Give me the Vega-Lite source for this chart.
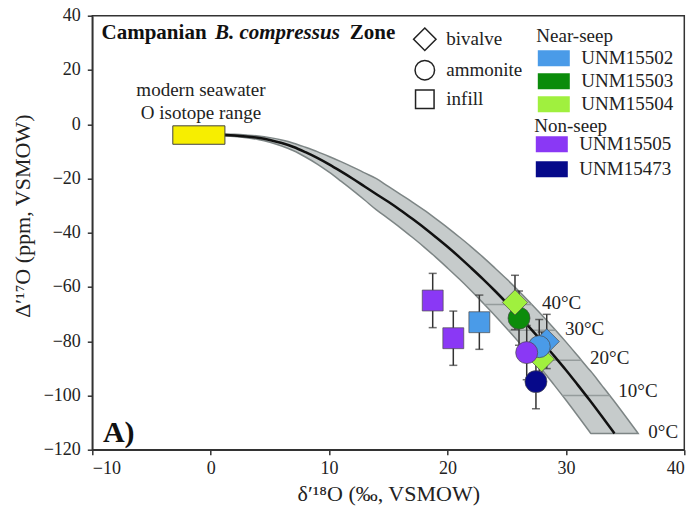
{
  "$schema": "https://vega.github.io/schema/vega-lite/v6.json",
  "width": 592,
  "height": 434,
  "autosize": "none",
  "padding": {"left": 92.3, "top": 15.7, "right": 12.7, "bottom": 64.3},
  "background": "white",
  "config": {
    "font": "Liberation Serif, serif",
    "view": {"stroke": "#333", "strokeWidth": 1.5},
    "axis": {
      "grid": false, "domainColor": "#333", "domainWidth": 1.5,
      "tickColor": "#333", "tickWidth": 1.5, "tickSize": 5,
      "labelFont": "Liberation Serif, serif", "labelFontSize": 18, "labelColor": "#222",
      "titleFont": "Liberation Serif, serif", "titleFontSize": 22, "titleFontWeight": "normal", "titleColor": "#222"
    },
    "legend": {
      "labelFont": "Liberation Serif, serif", "titleFont": "Liberation Serif, serif",
      "labelFontSize": 19, "titleFontSize": 19, "titleFontWeight": "normal",
      "labelColor": "#222", "titleColor": "#222", "padding": 0
    }
  },
  "datasets": {
    "band": [
      {"x": 1.2, "upper": -3.65, "lower": -4.35},
      {"x": 2, "upper": -3.75, "lower": -4.55},
      {"x": 3, "upper": -4.0, "lower": -5.0},
      {"x": 4, "upper": -4.35, "lower": -5.65},
      {"x": 5, "upper": -4.95, "lower": -6.65},
      {"x": 6, "upper": -5.85, "lower": -8.05},
      {"x": 7, "upper": -7.0, "lower": -9.8},
      {"x": 8, "upper": -8.5, "lower": -12.1},
      {"x": 9, "upper": -10.1, "lower": -14.7},
      {"x": 10, "upper": -11.9, "lower": -17.7},
      {"x": 11, "upper": -13.8, "lower": -21.0},
      {"x": 12, "upper": -15.8, "lower": -24.4},
      {"x": 13, "upper": -17.95, "lower": -27.95},
      {"x": 14, "upper": -20.1, "lower": -31.6},
      {"x": 15, "upper": -22.95, "lower": -34.8},
      {"x": 16, "upper": -25.8, "lower": -38.1},
      {"x": 17, "upper": -28.6, "lower": -41.6},
      {"x": 18, "upper": -31.6, "lower": -45.2},
      {"x": 19, "upper": -34.8, "lower": -49.0},
      {"x": 20, "upper": -38.1, "lower": -53.0},
      {"x": 21, "upper": -41.6, "lower": -57.1},
      {"x": 22, "upper": -45.2, "lower": -61.4},
      {"x": 23, "upper": -49.0, "lower": -65.9},
      {"x": 24, "upper": -53.0, "lower": -70.5},
      {"x": 25, "upper": -57.1, "lower": -75.3},
      {"x": 26, "upper": -61.4, "lower": -80.25},
      {"x": 27, "upper": -65.9, "lower": -85.4},
      {"x": 28, "upper": -70.5, "lower": -90.6},
      {"x": 29, "upper": -75.3, "lower": -96.1},
      {"x": 30, "upper": -80.25, "lower": -101.7},
      {"x": 31, "upper": -85.4, "lower": -107.5},
      {"x": 32, "upper": -90.6, "lower": -113.4},
      {"x": 32.1, "upper": -91.1, "lower": -114},
      {"x": 33, "upper": -96.1, "lower": -114},
      {"x": 34, "upper": -101.7, "lower": -114},
      {"x": 35, "upper": -107.5, "lower": -114},
      {"x": 36, "upper": -113.4, "lower": -114},
      {"x": 36.1, "upper": -114, "lower": -114}
    ],
    "curve": [
      {"x": 1.2, "y": -4.0}, {"x": 2, "y": -4.15}, {"x": 3, "y": -4.5}, {"x": 4, "y": -5.0},
      {"x": 5, "y": -5.8}, {"x": 6, "y": -6.95}, {"x": 7, "y": -8.4}, {"x": 8, "y": -10.3},
      {"x": 9, "y": -12.4}, {"x": 10, "y": -14.8}, {"x": 11, "y": -17.4}, {"x": 12, "y": -20.1},
      {"x": 13, "y": -22.95}, {"x": 14, "y": -25.8}, {"x": 15, "y": -28.6}, {"x": 16, "y": -31.6},
      {"x": 17, "y": -34.8}, {"x": 18, "y": -38.1}, {"x": 19, "y": -41.6}, {"x": 20, "y": -45.2},
      {"x": 21, "y": -49.0}, {"x": 22, "y": -53.0}, {"x": 23, "y": -57.1}, {"x": 24, "y": -61.4},
      {"x": 25, "y": -65.9}, {"x": 26, "y": -70.5}, {"x": 27, "y": -75.3}, {"x": 28, "y": -80.25},
      {"x": 29, "y": -85.4}, {"x": 30, "y": -90.6}, {"x": 31, "y": -96.1}, {"x": 32, "y": -101.7},
      {"x": 33, "y": -107.5}, {"x": 34, "y": -113.4}, {"x": 34.1, "y": -114}
    ],
    "tlines": [
      {"y": -66.5, "xl": 23.13, "xr": 27.13},
      {"y": -76, "xl": 25.14, "xr": 29.14},
      {"y": -87, "xl": 27.31, "xr": 31.31},
      {"y": -100, "xl": 29.7, "xr": 33.7}
    ],
    "tlabels": [
      {"x": 27.98, "y": -65.9, "t": "40°C"},
      {"x": 29.92, "y": -75.4, "t": "30°C"},
      {"x": 32.04, "y": -86.2, "t": "20°C"},
      {"x": 34.43, "y": -98.5, "t": "10°C"},
      {"x": 36.96, "y": -113.3, "t": "0°C"}
    ],
    "box": [{"x1": -3.2, "x2": 1.2, "y1": -7.4, "y2": -0.6}],
    "notes": [
      {"x": -0.82, "y": 12.6, "t": "modern seawater"},
      {"x": -0.82, "y": 4.15, "t": "O isotope range"}
    ],
    "pts": [
      {"x": 28.38, "y": -80.1, "lo": -90.1, "hi": -70.1, "specimen": "UNM15502", "type": "bivalve", "seep": "near"},
      {"x": 27.96, "y": -86.6, "lo": -96.6, "hi": -76.6, "specimen": "UNM15504", "type": "bivalve", "seep": "near"},
      {"x": 27.75, "y": -82.0, "lo": -92.0, "hi": -72.0, "specimen": "UNM15502", "type": "ammonite", "seep": "near"},
      {"x": 26.04, "y": -71.5, "lo": -81.5, "hi": -61.5, "specimen": "UNM15503", "type": "ammonite", "seep": "near"},
      {"x": 25.7, "y": -65.7, "lo": -75.7, "hi": -55.7, "specimen": "UNM15504", "type": "bivalve", "seep": "near"},
      {"x": 22.69, "y": -73.0, "lo": -83.0, "hi": -63.0, "specimen": "UNM15502", "type": "infill", "seep": "near"},
      {"x": 26.69, "y": -84.2, "lo": -94.2, "hi": -74.2, "specimen": "UNM15505", "type": "ammonite", "seep": "non"},
      {"x": 27.47, "y": -94.9, "lo": -104.9, "hi": -84.9, "specimen": "UNM15473", "type": "ammonite", "seep": "non"},
      {"x": 18.75, "y": -65.0, "lo": -75.0, "hi": -55.0, "specimen": "UNM15505", "type": "infill", "seep": "non"},
      {"x": 20.49, "y": -78.9, "lo": -88.9, "hi": -68.9, "specimen": "UNM15505", "type": "infill", "seep": "non"}
    ],
    "titleA": [{"x": -9.22, "y": 31.4, "t": "Campanian"}, {"x": 11.75, "y": 31.4, "t": "Zone"}],
    "titleB": [{"x": 0.36, "y": 31.4, "t": "B. compressus"}],
    "panel": [{"x": -9.1, "y": -117.1, "t": "A)"}]
  },
  "layer": [
    {
      "data": {"name": "band"},
      "mark": {"type": "area", "orient": "vertical", "fill": "#c6cbcb", "stroke": "#7d8585", "strokeWidth": 1.5, "interpolate": "monotone"},
      "encoding": {
        "x": {"field": "x", "type": "quantitative", "scale": {"domain": [-10, 40], "nice": false},
              "axis": {"values": [-10, 0, 10, 20, 30, 40], "title": "δ′¹⁸O (‰, VSMOW)", "labelPadding": 5, "titleY": 44, "titleBaseline": "middle", "labelFont": "Liberation Serif", "titleFont": "Liberation Serif"}},
        "y": {"field": "upper", "type": "quantitative", "scale": {"domain": [-120, 40], "nice": false},
              "axis": {"values": [-120, -100, -80, -60, -40, -20, 0, 20, 40], "title": "Δ′¹⁷O (ppm, VSMOW)", "labelPadding": 7, "titleX": -70, "titleY": 200, "titleBaseline": "middle", "titleAlign": "center", "titleAngle": -90, "labelFont": "Liberation Serif", "titleFont": "Liberation Serif"}},
        "y2": {"field": "lower"}
      }
    },
    {
      "data": {"name": "tlines"},
      "mark": {"type": "rule", "stroke": "#959c9c", "strokeWidth": 1.5},
      "encoding": {
        "x": {"field": "xl", "type": "quantitative"},
        "x2": {"field": "xr"},
        "y": {"field": "y", "type": "quantitative"}
      }
    },
    {
      "data": {"name": "curve"},
      "mark": {"type": "line", "stroke": "#111", "strokeWidth": 2.5, "interpolate": "monotone"},
      "encoding": {
        "x": {"field": "x", "type": "quantitative"},
        "y": {"field": "y", "type": "quantitative"}
      }
    },
    {
      "data": {"name": "box"},
      "mark": {"type": "rect", "fill": "#f7ee00", "stroke": "#444", "strokeWidth": 1},
      "encoding": {
        "x": {"field": "x1", "type": "quantitative"}, "x2": {"field": "x2"},
        "y": {"field": "y1", "type": "quantitative"}, "y2": {"field": "y2"}
      }
    },
    {
      "data": {"name": "pts"},
      "mark": {"type": "rule", "stroke": "#333", "strokeWidth": 1.5},
      "encoding": {
        "x": {"field": "x", "type": "quantitative"},
        "y": {"field": "lo", "type": "quantitative"}, "y2": {"field": "hi"}
      }
    },
    {
      "data": {"name": "pts"},
      "mark": {"type": "tick", "orient": "horizontal", "color": "#333", "size": 8, "thickness": 1.5},
      "encoding": {
        "x": {"field": "x", "type": "quantitative"},
        "y": {"field": "lo", "type": "quantitative"}
      }
    },
    {
      "data": {"name": "pts"},
      "mark": {"type": "tick", "orient": "horizontal", "color": "#333", "size": 8, "thickness": 1.5},
      "encoding": {
        "x": {"field": "x", "type": "quantitative"},
        "y": {"field": "hi", "type": "quantitative"}
      }
    },
    {
      "data": {"name": "pts"},
      "transform": [{"filter": "datum.seep === 'near'"}],
      "mark": {"type": "point", "filled": true, "opacity": 1, "size": 484, "stroke": "#4a4a4a", "strokeWidth": 0.7},
      "encoding": {
        "x": {"field": "x", "type": "quantitative"},
        "y": {"field": "y", "type": "quantitative"},
        "fill": {"field": "specimen", "type": "nominal",
                 "scale": {"domain": ["UNM15502", "UNM15503", "UNM15504"], "range": ["#4a9be8", "#0b8c0b", "#a0f03e"]},
                 "legend": {"title": "Near-seep", "orient": "none", "legendX": 444, "legendY": 11,
                            "symbolType": "M-2,-1H2V1H-2Z", "symbolSize": 256, "symbolStrokeWidth": 0, "symbolOpacity": 1,
                            "symbolOffset": 8, "labelOffset": 18, "titlePadding": 3, "rowPadding": 3}},
        "shape": {"field": "type", "type": "nominal",
                  "scale": {"domain": ["bivalve", "ammonite", "infill"], "range": ["M0,-1.15L1.15,0L0,1.15L-1.15,0Z", "circle", "M-0.95,-0.95H0.95V0.95H-0.95Z"]},
                  "legend": {"title": null, "orient": "none", "legendX": 322, "legendY": 13,
                             "symbolFillColor": "transparent", "symbolStrokeColor": "#222", "symbolStrokeWidth": 1.5,
                             "symbolSize": 380, "labelOffset": 11, "rowPadding": 3}}
      }
    },
    {
      "data": {"name": "pts"},
      "transform": [{"filter": "datum.seep === 'non'"}],
      "mark": {"type": "point", "filled": true, "opacity": 1, "size": 484, "stroke": "#4a4a4a", "strokeWidth": 0.7},
      "encoding": {
        "x": {"field": "x", "type": "quantitative"},
        "y": {"field": "y", "type": "quantitative"},
        "color": {"field": "specimen", "type": "nominal",
                  "scale": {"domain": ["UNM15505", "UNM15473"], "range": ["#8a38f5", "#06098a"]},
                  "legend": {"title": "Non-seep", "orient": "none", "legendX": 442, "legendY": 101,
                             "symbolType": "M-2,-1H2V1H-2Z", "symbolSize": 256, "symbolStrokeWidth": 0, "symbolOpacity": 1,
                             "symbolOffset": 8, "labelOffset": 18, "titlePadding": -1, "rowPadding": 5}},
        "shape": {"field": "type", "type": "nominal"}
      }
    },
    {
      "data": {"name": "tlabels"},
      "mark": {"type": "text", "align": "left", "baseline": "middle", "fontSize": 19, "font": "Liberation Serif", "color": "#222"},
      "encoding": {
        "x": {"field": "x", "type": "quantitative"}, "y": {"field": "y", "type": "quantitative"},
        "text": {"field": "t"}
      }
    },
    {
      "data": {"name": "notes"},
      "mark": {"type": "text", "align": "center", "baseline": "middle", "fontSize": 19, "font": "Liberation Serif", "color": "#222"},
      "encoding": {
        "x": {"field": "x", "type": "quantitative"}, "y": {"field": "y", "type": "quantitative"},
        "text": {"field": "t"}
      }
    },
    {
      "data": {"name": "titleA"},
      "mark": {"type": "text", "align": "left", "baseline": "alphabetic", "fontSize": 21, "fontWeight": "bold", "font": "Liberation Serif", "color": "#111"},
      "encoding": {
        "x": {"field": "x", "type": "quantitative"}, "y": {"field": "y", "type": "quantitative"},
        "text": {"field": "t"}
      }
    },
    {
      "data": {"name": "titleB"},
      "mark": {"type": "text", "align": "left", "baseline": "alphabetic", "fontSize": 21, "fontWeight": "bold", "fontStyle": "italic", "font": "Liberation Serif", "color": "#111"},
      "encoding": {
        "x": {"field": "x", "type": "quantitative"}, "y": {"field": "y", "type": "quantitative"},
        "text": {"field": "t"}
      }
    },
    {
      "data": {"name": "panel"},
      "mark": {"type": "text", "align": "left", "baseline": "alphabetic", "fontSize": 30, "fontWeight": "bold", "font": "Liberation Serif", "color": "#111"},
      "encoding": {
        "x": {"field": "x", "type": "quantitative"}, "y": {"field": "y", "type": "quantitative"},
        "text": {"field": "t"}
      }
    }
  ]
}
